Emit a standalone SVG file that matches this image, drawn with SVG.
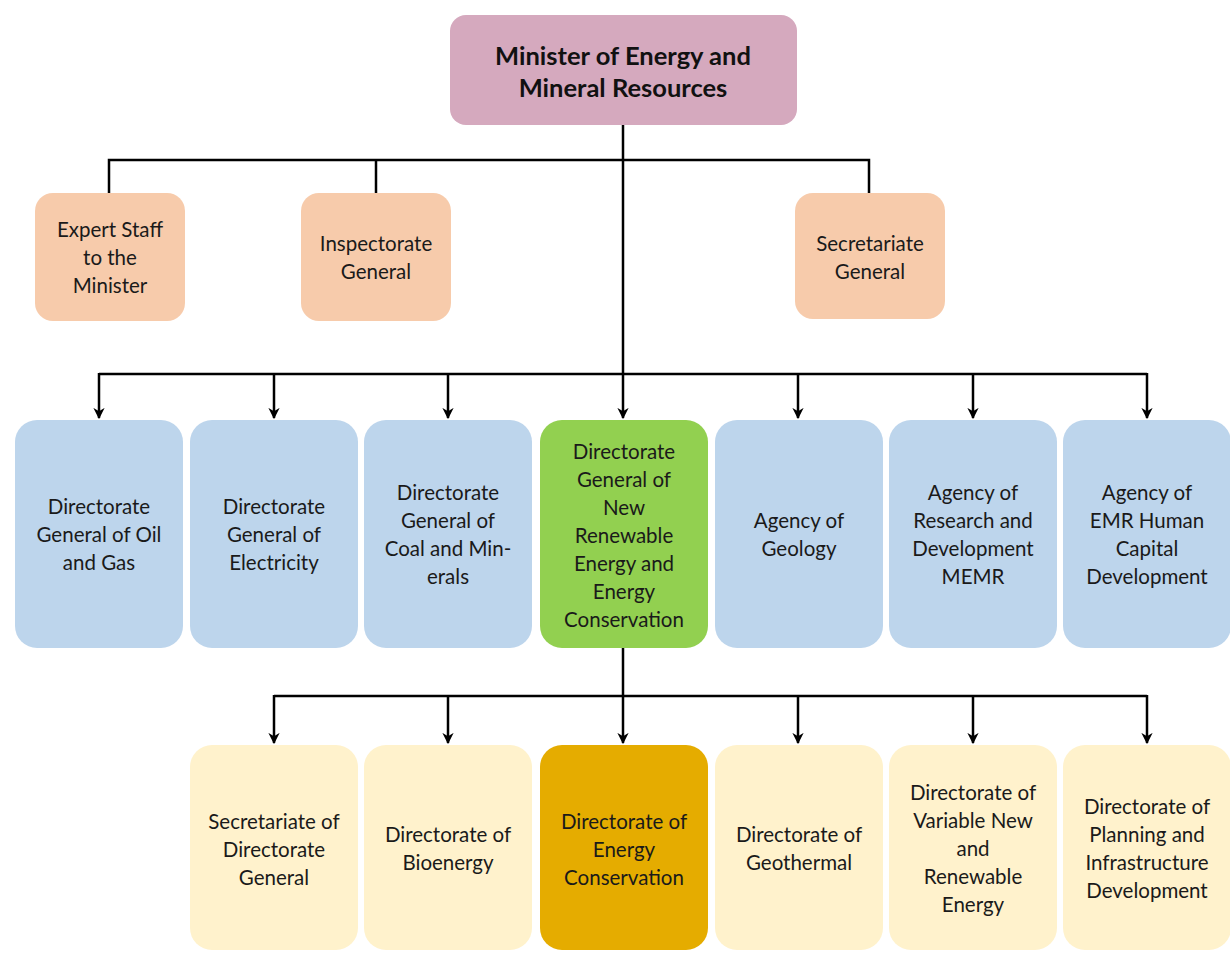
<svg xmlns="http://www.w3.org/2000/svg" width="1230" height="960" viewBox="0 0 1230 960">
<style>
.t{font-family:Lato,"Open Sans","Liberation Sans",sans-serif;font-size:20.5px;fill:#1a1a1a;text-anchor:middle}
.b{font-family:Lato,"Open Sans","Liberation Sans",sans-serif;font-size:25.5px;font-weight:bold;fill:#111;text-anchor:middle}
.c{fill:none;stroke:#000;stroke-width:2.5}
.pink{fill:#D5A9BE}
.peach{fill:#F7CBAB}
.blue{fill:#BDD5EC}
.green{fill:#92D050}
.cream{fill:#FFF2CC}
.gold{fill:#E5AC00}
</style>
<defs>
<marker id="ar" viewBox="0 0 10 10" refX="9" refY="5" markerWidth="4.5" markerHeight="4.5" orient="auto" markerUnits="strokeWidth">
<path d="M0,0 L10,5 L0,10 L3,5 Z" fill="#000"/>
</marker>
</defs>
<rect width="1230" height="960" fill="#fff"/>
<g id="connectors">
<line class="c" x1="623" y1="125" x2="623" y2="374"/>
<polyline class="c" points="109,193 109,160 869,160 869,193"/>
<line class="c" x1="376" y1="160" x2="376" y2="193"/>
<line class="c" x1="99" y1="374" x2="1147" y2="374"/>
<line class="c" x1="99" y1="373" x2="99" y2="418" marker-end="url(#ar)"/>
<line class="c" x1="274" y1="374" x2="274" y2="418" marker-end="url(#ar)"/>
<line class="c" x1="448" y1="374" x2="448" y2="418" marker-end="url(#ar)"/>
<line class="c" x1="623" y1="374" x2="623" y2="418" marker-end="url(#ar)"/>
<line class="c" x1="798" y1="374" x2="798" y2="418" marker-end="url(#ar)"/>
<line class="c" x1="973" y1="374" x2="973" y2="418" marker-end="url(#ar)"/>
<line class="c" x1="1147" y1="373" x2="1147" y2="418" marker-end="url(#ar)"/>
<line class="c" x1="623" y1="648" x2="623" y2="696"/>
<line class="c" x1="274" y1="696" x2="1147" y2="696"/>
<line class="c" x1="274" y1="695" x2="274" y2="743" marker-end="url(#ar)"/>
<line class="c" x1="448" y1="696" x2="448" y2="743" marker-end="url(#ar)"/>
<line class="c" x1="623" y1="696" x2="623" y2="743" marker-end="url(#ar)"/>
<line class="c" x1="798" y1="696" x2="798" y2="743" marker-end="url(#ar)"/>
<line class="c" x1="973" y1="696" x2="973" y2="743" marker-end="url(#ar)"/>
<line class="c" x1="1147" y1="695" x2="1147" y2="743" marker-end="url(#ar)"/>
</g>
<g id="minister">
<rect class="pink" x="450" y="15" width="347" height="110" rx="16"/>
<text class="b" x="623" y="65">Minister of Energy and</text>
<text class="b" x="623" y="97">Mineral Resources</text>
</g>
<g id="expert-staff">
<rect class="peach" x="35" y="193" width="150" height="128" rx="18"/>
<text class="t" x="110" y="237">Expert Staff</text>
<text class="t" x="110" y="265">to the</text>
<text class="t" x="110" y="293">Minister</text>
</g>
<g id="inspectorate">
<rect class="peach" x="301" y="193" width="150" height="128" rx="18"/>
<text class="t" x="376" y="251">Inspectorate</text>
<text class="t" x="376" y="279">General</text>
</g>
<g id="secretariate-general">
<rect class="peach" x="795" y="193" width="150" height="126" rx="18"/>
<text class="t" x="870" y="251">Secretariate</text>
<text class="t" x="870" y="279">General</text>
</g>
<g id="dg-oil-gas">
<rect class="blue" x="15" y="420" width="168" height="228" rx="22"/>
<text class="t" x="99" y="514">Directorate</text>
<text class="t" x="99" y="542">General of Oil</text>
<text class="t" x="99" y="570">and Gas</text>
</g>
<g id="dg-electricity">
<rect class="blue" x="190" y="420" width="168" height="228" rx="22"/>
<text class="t" x="274" y="514">Directorate</text>
<text class="t" x="274" y="542">General of</text>
<text class="t" x="274" y="570">Electricity</text>
</g>
<g id="dg-coal">
<rect class="blue" x="364" y="420" width="168" height="228" rx="22"/>
<text class="t" x="448" y="500">Directorate</text>
<text class="t" x="448" y="528">General of</text>
<text class="t" x="448" y="556">Coal and Min-</text>
<text class="t" x="448" y="584">erals</text>
</g>
<g id="dg-nrec">
<rect class="green" x="540" y="420" width="168" height="228" rx="22"/>
<text class="t" x="624" y="459">Directorate</text>
<text class="t" x="624" y="487">General of</text>
<text class="t" x="624" y="515">New</text>
<text class="t" x="624" y="543">Renewable</text>
<text class="t" x="624" y="571">Energy and</text>
<text class="t" x="624" y="599">Energy</text>
<text class="t" x="624" y="627">Conservation</text>
</g>
<g id="agency-geology">
<rect class="blue" x="715" y="420" width="168" height="228" rx="22"/>
<text class="t" x="799" y="528">Agency of</text>
<text class="t" x="799" y="556">Geology</text>
</g>
<g id="agency-rnd">
<rect class="blue" x="889" y="420" width="168" height="228" rx="22"/>
<text class="t" x="973" y="500">Agency of</text>
<text class="t" x="973" y="528">Research and</text>
<text class="t" x="973" y="556">Development</text>
<text class="t" x="973" y="584">MEMR</text>
</g>
<g id="agency-hcd">
<rect class="blue" x="1063" y="420" width="168" height="228" rx="22"/>
<text class="t" x="1147" y="500">Agency of</text>
<text class="t" x="1147" y="528">EMR Human</text>
<text class="t" x="1147" y="556">Capital</text>
<text class="t" x="1147" y="584">Development</text>
</g>
<g id="secretariate-dg">
<rect class="cream" x="190" y="745" width="168" height="205" rx="22"/>
<text class="t" x="274" y="829">Secretariate of</text>
<text class="t" x="274" y="857">Directorate</text>
<text class="t" x="274" y="885">General</text>
</g>
<g id="dir-bioenergy">
<rect class="cream" x="364" y="745" width="168" height="205" rx="22"/>
<text class="t" x="448" y="842">Directorate of</text>
<text class="t" x="448" y="870">Bioenergy</text>
</g>
<g id="dir-conservation">
<rect class="gold" x="540" y="745" width="168" height="205" rx="22"/>
<text class="t" x="624" y="829">Directorate of</text>
<text class="t" x="624" y="857">Energy</text>
<text class="t" x="624" y="885">Conservation</text>
</g>
<g id="dir-geothermal">
<rect class="cream" x="715" y="745" width="168" height="205" rx="22"/>
<text class="t" x="799" y="842">Directorate of</text>
<text class="t" x="799" y="870">Geothermal</text>
</g>
<g id="dir-variable">
<rect class="cream" x="889" y="745" width="168" height="205" rx="22"/>
<text class="t" x="973" y="800">Directorate of</text>
<text class="t" x="973" y="828">Variable New</text>
<text class="t" x="973" y="856">and</text>
<text class="t" x="973" y="884">Renewable</text>
<text class="t" x="973" y="912">Energy</text>
</g>
<g id="dir-planning">
<rect class="cream" x="1063" y="745" width="168" height="205" rx="22"/>
<text class="t" x="1147" y="814">Directorate of</text>
<text class="t" x="1147" y="842">Planning and</text>
<text class="t" x="1147" y="870">Infrastructure</text>
<text class="t" x="1147" y="898">Development</text>
</g>
</svg>
